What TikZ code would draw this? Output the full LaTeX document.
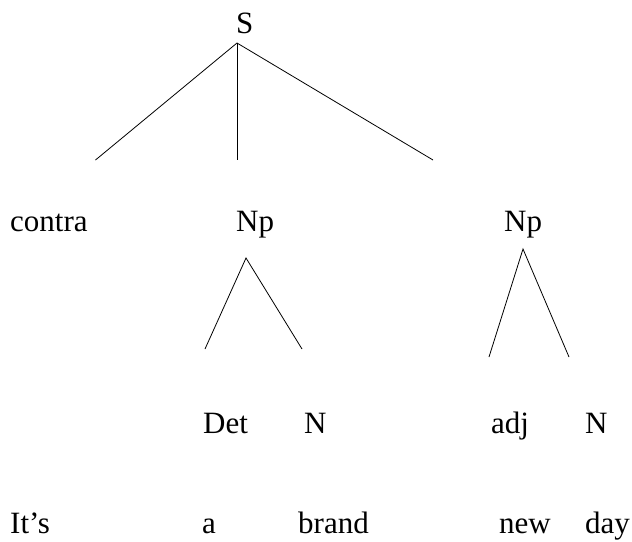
\documentclass[tikz,border=0pt]{standalone}
\usepackage{fontspec}
\setmainfont{Liberation Serif}
\begin{document}
\begin{tikzpicture}[x=1pt,y=-1pt,
  lbl/.style={anchor=base west,inner sep=0pt,font=\fontsize{31}{36}\selectfont},
  edge/.style={line width=0.8pt}]
\useasboundingbox (0,0) rectangle (632,541);
% nodes
\node[lbl] (S) at (236,33) {S};
\node[lbl] (contra) at (10,231) {contra};
\node[lbl] (np1) at (236,231) {Np};
\node[lbl] (np2) at (504,231) {Np};
\node[lbl] (det) at (203,433) {Det};
\node[lbl] (n1) at (304,433) {N};
\node[lbl] (adj) at (491,433) {adj};
\node[lbl] (n2) at (585,433) {N};
\node[lbl] (its) at (10,533) {It’s};
\node[lbl] (a) at (202,533) {a};
\node[lbl] (brand) at (298,533) {brand};
\node[lbl] (new) at (499,533) {new};
\node[lbl] (day) at (585,533) {day};
% line end points
\coordinate (sTop) at (237,43);
\coordinate (sL) at (95.5,160);
\coordinate (sM) at (237,160);
\coordinate (sR) at (433,160);
\coordinate (p1Top) at (246,258);
\coordinate (p1L) at (205,349);
\coordinate (p1R) at (302,349);
\coordinate (p2Top) at (523,249);
\coordinate (p2L) at (489,357);
\coordinate (p2R) at (569,357);
% edges
\draw[edge] (sL) -- (sTop) -- (sR);
\draw[edge] (sTop) -- (sM);
\draw[edge] (p1L) -- (p1Top) -- (p1R);
\draw[edge] (p2L) -- (p2Top) -- (p2R);
\end{tikzpicture}
\end{document}
